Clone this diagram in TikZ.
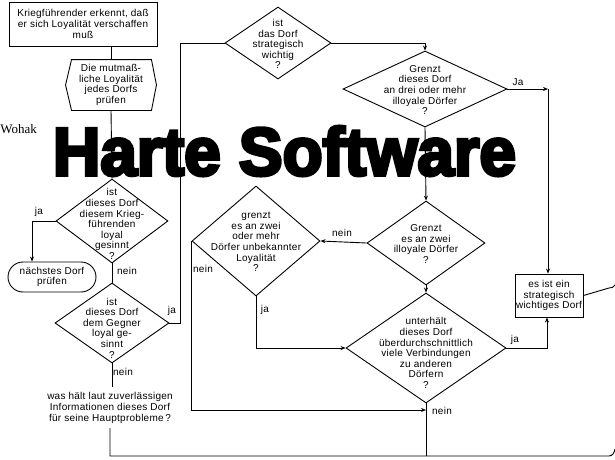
\documentclass[tikz,border=0pt]{standalone}
\usepackage{fontspec}
\setmainfont{Liberation Sans}[LetterSpace=2.6]
\newfontfamily\bigfont{Liberation Sans Bold}[FakeBold=5]
\newfontfamily\seriffont{Liberation Serif}
\usetikzlibrary{shapes.geometric,shapes.misc,arrows.meta,calc}
\tikzset{
  dia/.style={draw, diamond, inner sep=0pt},
  txt/.style={align=center, inner sep=0pt},
  lab/.style={inner sep=1pt},
  arr/.style={-{Stealth[length=5pt,width=4pt]}},
  procbox/.style={draw, inner sep=1pt, align=center},
}
\begin{document}
\begin{tikzpicture}[x=1pt,y=-1pt,line width=0.9pt,font=\fontsize{10}{10.6}\selectfont]
\useasboundingbox (0,0) rectangle (615,459);
\fill[white] (0,0) rectangle (615,459);
% title and author
\node[inner sep=0pt] (title) at (284.5,151) {\resizebox{463pt}{49pt}{\bigfont Harte Software}};
\node[anchor=base west, inner sep=0pt, font=\seriffont\fontsize{13}{13}\selectfont] (auth) at (0,133) {Wohak};
% nodes
\node[procbox, minimum width=148pt, minimum height=44pt] (top) at (83,24) {Kriegführender erkennt, daß\\er sich Loyalität verschaffen\\muß};
\node[txt, minimum width=90pt, minimum height=50pt] (hx) at (111,85) {Die mutmaß-\\liche Loyalität\\jedes Dorfs\\prüfen};
\draw (hx.west) -- ([xshift=6pt]hx.north west) -- ([xshift=-5pt]hx.north east) -- (hx.east) -- ([xshift=-5pt]hx.south east) -- ([xshift=6pt]hx.south west) -- cycle;
\node[dia, minimum width=112pt, minimum height=84pt] (d1) at (112,221) {};
\node[txt] (d1t) at (112,224) {ist\\dieses Dorf\\diesem Krieg-\\führenden\\loyal\\gesinnt\\?};
\node[draw, rounded rectangle, minimum width=90pt, minimum height=30pt, inner sep=1pt, align=center] (nd) at (52,277) {nächstes Dorf\\prüfen};
\node[dia, minimum width=114pt, minimum height=80pt] (d2) at (112,323) {};
\node[txt] (d2t) at (112,328) {ist\\dieses Dorf\\dem Gegner\\loyal ge-\\sinnt\\?};
\node[txt] (was) at (110,408) {was hält laut zuverlässigen\\Informationen dieses Dorf\\für seine Hauptprobleme\,?};
\node[dia, minimum width=106pt, minimum height=72pt] (S) at (278,43) {};
\node[txt] (St) at (278,44) {ist\\das Dorf\\strategisch\\wichtig\\?};
\node[dia, minimum width=164pt, minimum height=76pt] (G3) at (425,89) {};
\node[txt] (G3t) at (425,90) {Grenzt\\dieses Dorf\\an drei oder mehr\\illoyale Dörfer\\?};
\node[dia, minimum width=118pt, minimum height=84pt] (G2) at (426,243) {};
\node[txt] (G2t) at (426,244) {Grenzt\\es an zwei\\illoyale Dörfer\\?};
\node[dia, minimum width=128pt, minimum height=110pt] (U) at (256,241) {};
\node[txt] (Ut) at (256,242) {grenzt\\es an zwei\\oder mehr\\Dörfer unbekannter\\Loyalität\\?};
\node[dia, minimum width=160pt, minimum height=110pt] (V) at (426,348) {};
\node[txt] (Vt) at (426,353) {unterhält\\dieses Dorf\\überdurchschnittlich\\viele Verbindungen\\zu anderen\\Dörfern\\?};
\node[procbox, minimum width=68pt, minimum height=43pt] (imp) at (549,295.5) {es ist ein\\strategisch\\wichtiges Dorf};
% coordinates
\coordinate (c1) at (32,221);
\coordinate (c2) at (180,323);
\coordinate (c4) at (548,89);
\coordinate (c5) at (193,410);
\coordinate (c6) at (547,348);
\coordinate (b1) at (110,456);
\coordinate (b2) at (609,456);
\coordinate (b3) at (615,449);
\coordinate (r1) at (609,288);
\coordinate (r2) at (615,285);
% connectors
\draw (hx.north) -- (hx.north |- top.south);
\draw (hx.south) -- (d1.north);
\draw[arr] (d1.west) -- (c1) -- (c1 |- nd.north);
\node[lab] (l1) at (39,212) {ja};
\draw (d1.south) -- (d2.north);
\node[lab] (l2) at (127,271) {nein};
\draw (d2.east) -- (c2) -- (c2 |- S.west) -- (S.west);
\node[lab] (l3) at (172,311) {ja};
\draw (d2.south) -- ++(0,24);
\node[lab] (l4) at (123,372) {nein};
\draw (was.south |- 0,428) -- (b1) -- (b2) to[out=0,in=-100] (b3);
\draw[arr] (S.east) -- (G3.north |- S.east) -- (G3.north);
\draw[arr] (G3.east) -- (c4);
\draw[arr] (c4) -- (c4 |- imp.north);
\node[lab] (l5) at (518,82) {Ja};
\draw[arr] (G3.south) -- (G2.north);
\draw[arr] (G2.west) -- (U.east);
\node[lab] (l6) at (342,233) {nein};
\draw[arr] (U.west) -- (U.west |- c5) -- (V.south |- c5);
\node[lab] (l7) at (203,269) {nein};
\draw[arr] (U.south) -- (U.south |- V.west) -- (V.west);
\node[lab] (l8) at (265,310) {ja};
\draw[arr] (G2.south) -- (V.north);
\draw[arr] (V.east) -- (c6) -- (c6 |- imp.south);
\node[lab] (l9) at (515,340) {ja};
\draw (V.south) -- (V.south |- b1);
\node[lab] (l10) at (442,411) {nein};
\draw (imp.east) -- (r1) to[out=0,in=-120] (r2);
\end{tikzpicture}
\end{document}
